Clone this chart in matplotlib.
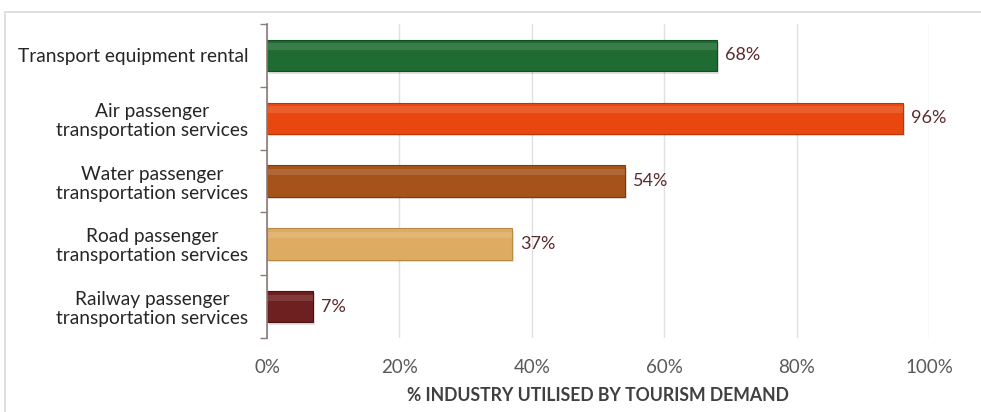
import numpy as np
import matplotlib.pyplot as plt
from matplotlib.patches import Rectangle

plt.rcParams['font.family'] = ['Lato', 'DejaVu Sans']

categories = ['Transport equipment rental',
              'Air passenger\ntransportation services',
              'Water passenger\ntransportation services',
              'Road passenger\ntransportation services',
              'Railway passenger\ntransportation services']
values = [68, 96, 54, 37, 7]
colors = ['#1f6b32', '#e8480f', '#a5531b', '#ddac62', '#6e1f1f']
edges = ['#154d23', '#b8380a', '#7a3c12', '#b98a45', '#4a1212']
xticks = [0, 20, 40, 60, 80, 100]

fig = plt.figure(figsize=(9.81, 4.12), dpi=100)
ax = fig.add_axes([0.2722, 0.1796, 0.6749, 0.7621])

# light frame round the chart area
fig.patches.append(Rectangle((0.005, -0.05), 1.2, 1.02, transform=fig.transFigure,
                             fill=False, edgecolor='#d9d9d9', linewidth=1.2))

y = np.arange(len(values))
h = 0.5
# soft drop shadow, body, then top highlight for a bevelled look
ax.barh(y + 0.04, values, height=h, left=0.3, color='#000000', alpha=0.12, zorder=2)
ax.barh(y, values, height=h, color=colors, edgecolor=edges, linewidth=0.8, zorder=3)
ax.barh(y - h * 0.28, values, height=h * 0.2, color='white', alpha=0.12,
        linewidth=0, zorder=4)

for yi, v in zip(y, values):
    ax.text(v + 1.2, yi, f'{v}%', va='center', ha='left', fontsize=13,
            color='#5b2b2b')

ax.set_xlim(0, 100)
ax.set_ylim(len(values) - 0.5, -0.5)
ax.set_xticks(xticks)
ax.set_xticklabels([f'{t}%' for t in xticks], fontsize=13.5, color='#595959')
ax.set_yticks(y)
ax.set_yticklabels(categories, fontsize=13.8, color='#262626',
                   multialignment='center', linespacing=1.15)
ax.set_yticks(np.arange(-0.5, len(values)), minor=True)
ax.tick_params(axis='y', which='major', length=0, pad=13.5)
ax.tick_params(axis='y', which='minor', length=5, color='#8c7a7a', width=1)
ax.tick_params(axis='x', length=0, pad=15)

ax.grid(axis='x', color='#e0e0e0', linewidth=1, zorder=0)
for s in ['top', 'right', 'bottom']:
    ax.spines[s].set_visible(False)
ax.spines['left'].set_color('#8c7a7a')
ax.spines['left'].set_linewidth(1.2)
ax.spines['left'].set_zorder(5)

ax.set_xlabel('% INDUSTRY UTILISED BY TOURISM DEMAND', fontsize=12.7,
              fontweight='bold', color='#404040', labelpad=8)

fig.savefig('out.png', dpi=100)
